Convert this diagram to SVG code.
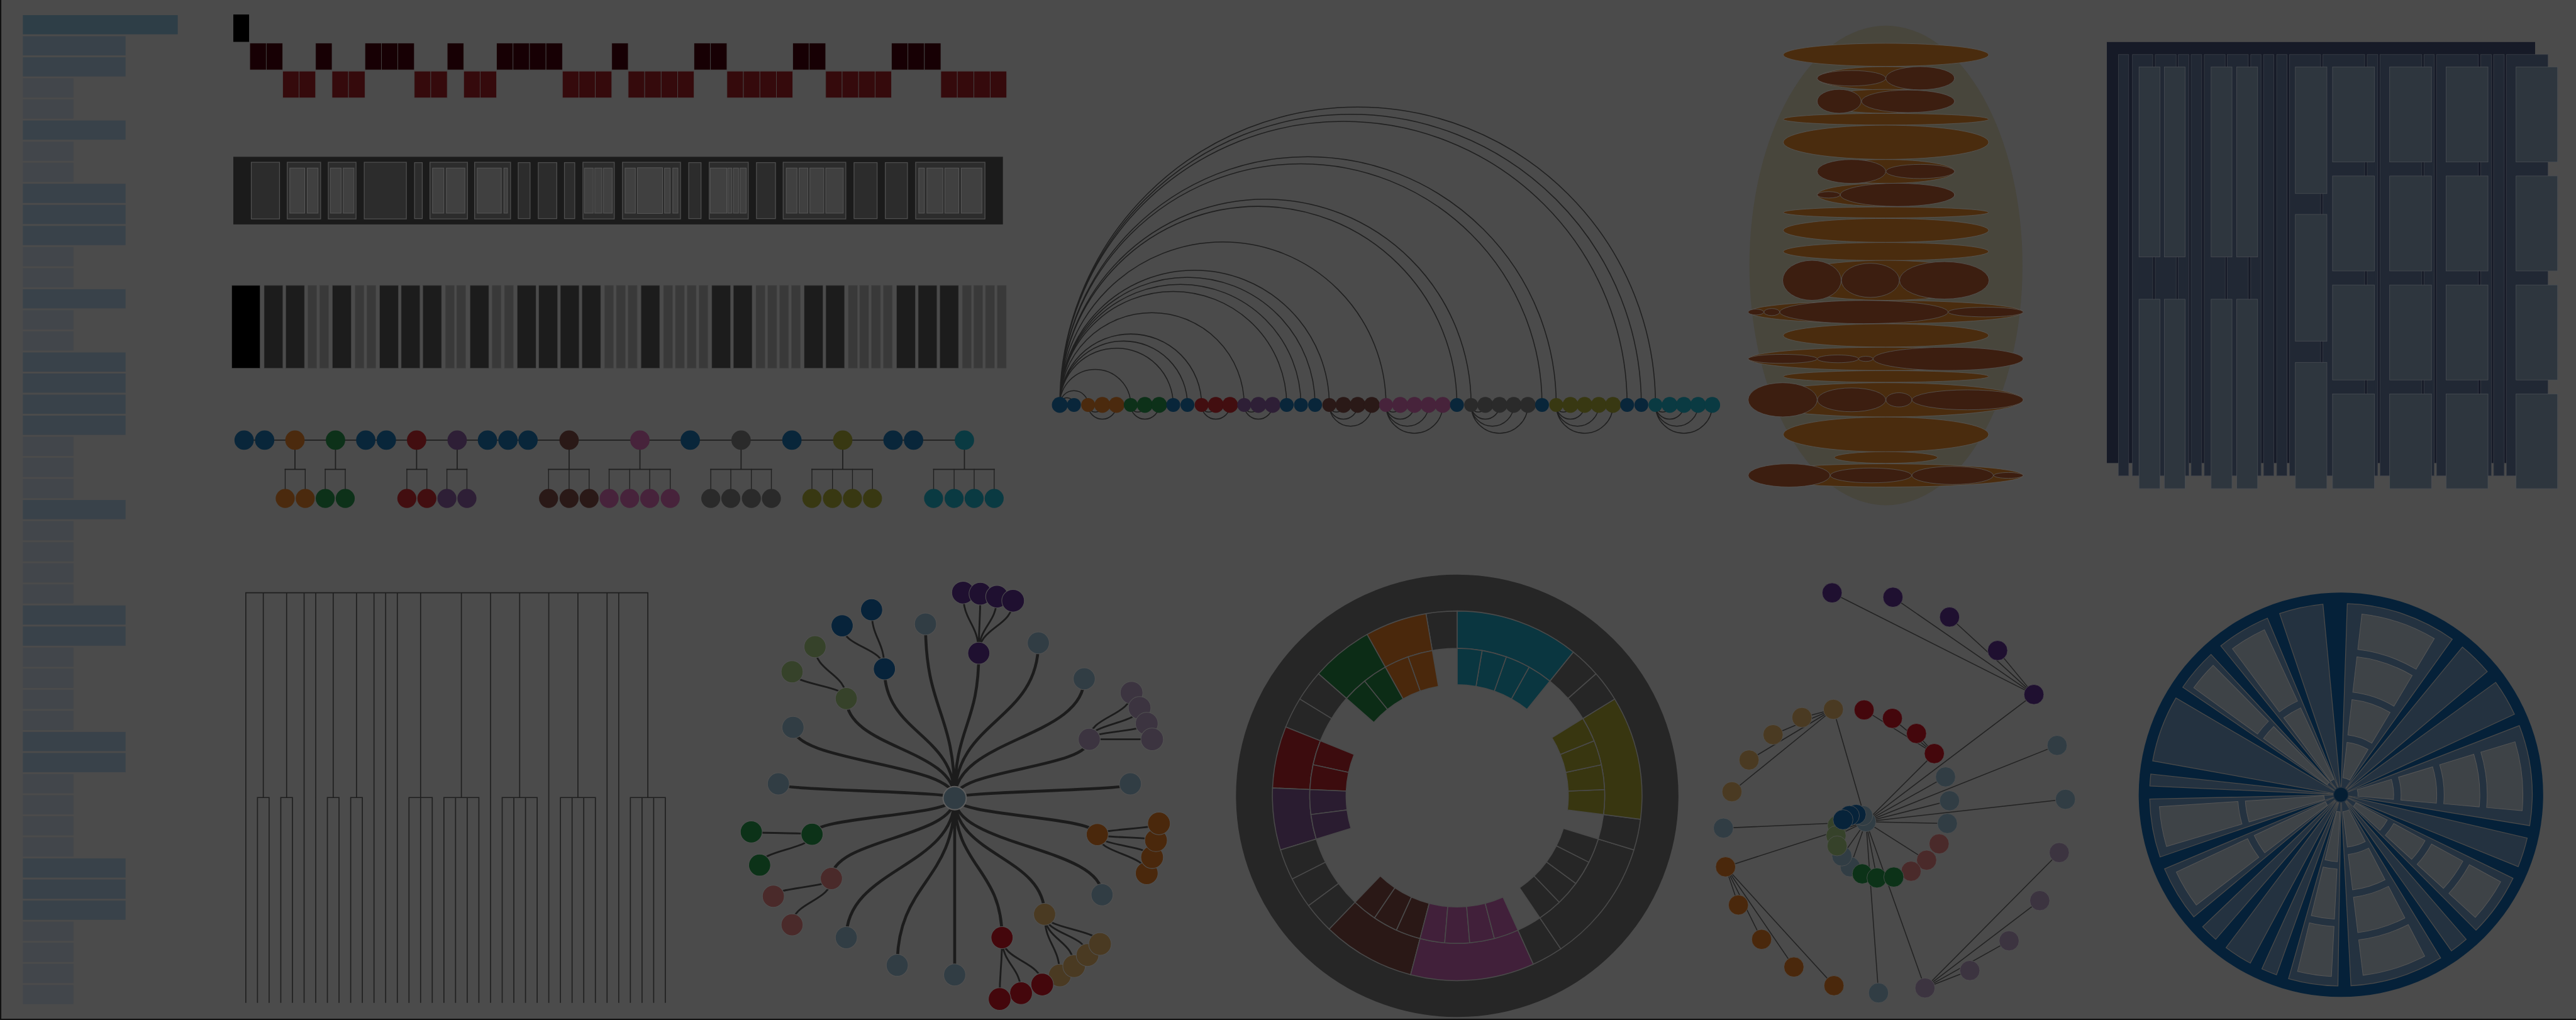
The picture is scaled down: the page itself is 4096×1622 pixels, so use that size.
<svg xmlns="http://www.w3.org/2000/svg" width="4096" height="1622" viewBox="0 0 4096 1622">
<style>
.l0{fill:#2e3e47}.l1{fill:#39424a}.l2{fill:#42464b}
.ic0{fill:#000}.ic1{fill:#170004;stroke:#4b4b4b;stroke-width:1.5}.ic2{fill:#350a0c;stroke:#4b4b4b;stroke-width:1.5}
.nb0{fill:#1b1b1b}.nb1{fill:#2c2c2c;stroke:#505050;stroke-width:2.5}.nb2{fill:#404040;stroke:#575757;stroke-width:2}
.bd{fill:#1c1c1c;stroke:#444;stroke-width:1.2}.bl{fill:#393939;stroke:#444;stroke-width:1.2}
.ln{fill:none;stroke:#1f1f1f;stroke-width:3.4;stroke-linecap:square}
.arc{fill:none;stroke:#1f1f1f;stroke-width:3}
.cb{fill:#09263a}.co{fill:#4b2a0e}.cg{fill:#0d3119}.cr{fill:#420e10}.cp{fill:#2e1f36}.cbr{fill:#2a1917}.cm{fill:#47233b}.cgr{fill:#2a2a2a}.col{fill:#383812}.ct{fill:#0a3a42}
.e1{fill:#4a2c0e;stroke:#5a5a5a;stroke-width:1.5}.e2{fill:#3c1e10;stroke:#5a5a5a;stroke-width:1.5}
.t0{fill:#161a27}.t1{fill:#212834;stroke:#3c4049;stroke-width:1.5}.t2{fill:#2e363e;stroke:#4b4f55;stroke-width:1.5}
.rl{fill:none;stroke:#1c1c1c;stroke-width:9}.rc{fill:none;stroke:#1c1c1c;stroke-width:5.5}
.q{stroke:#525252;stroke-width:2}
.qvi{fill:#1f1030}.qnv{fill:#07233a}.qol{fill:#36422a}.qgp{fill:#3c3440}.qor{fill:#4a280c}.qgo{fill:#4a3a22}.qrd{fill:#44070c}.qro{fill:#4a2a2a}.qgn{fill:#0c3218}.qbg{fill:#313d44}
.sb{stroke:#4a4a4a;stroke-width:3}
.sd{fill:#262626}.st{fill:#0a3640}.so{fill:#383610}.sm{fill:#41203a}.sbr{fill:#2a1816}.sp{fill:#2a1c30}.sr{fill:#3c0c0e}.sg{fill:#0c2c16}.sor{fill:#4a280c}
.fl{fill:none;stroke:#222;stroke-width:3}
.rw{fill:#243240;stroke:#4a4a4a;stroke-width:2.5}.rb{fill:#3e4347;stroke:#565656;stroke-width:2}
</style>
<rect width="4096" height="1622" fill="#4b4b4b"/>
<g transform="scale(0.512)">
<rect x="0" y="0" width="4" height="3168" fill="#111"/>
<rect x="0" y="3164" width="8000" height="4" fill="#111"/>

<g id="indented-list">
<rect class="l0" x="71" y="47" width="481" height="59.5"/>
<g class="l1">
<rect x="71" y="112.5" width="319" height="59.5"/><rect x="71" y="178" width="319" height="59.5"/><rect x="71" y="374.4" width="319" height="59.5"/><rect x="71" y="570.8" width="319" height="59.5"/><rect x="71" y="636.3" width="319" height="59.5"/><rect x="71" y="701.8" width="319" height="59.5"/><rect x="71" y="898.2" width="319" height="59.5"/><rect x="71" y="1094.7" width="319" height="59.5"/><rect x="71" y="1160.2" width="319" height="59.5"/><rect x="71" y="1225.6" width="319" height="59.5"/><rect x="71" y="1291.1" width="319" height="59.5"/><rect x="71" y="1553" width="319" height="59.5"/><rect x="71" y="1880.4" width="319" height="59.5"/><rect x="71" y="1945.9" width="319" height="59.5"/><rect x="71" y="2273.3" width="319" height="59.5"/><rect x="71" y="2338.8" width="319" height="59.5"/><rect x="71" y="2666.2" width="319" height="59.5"/><rect x="71" y="2731.7" width="319" height="59.5"/><rect x="71" y="2797.2" width="319" height="59.5"/>
</g>
<g class="l2">
<rect x="71" y="243.4" width="157" height="59.5"/><rect x="71" y="308.9" width="157" height="59.5"/><rect x="71" y="439.9" width="157" height="59.5"/><rect x="71" y="505.4" width="157" height="59.5"/><rect x="71" y="767.3" width="157" height="59.5"/><rect x="71" y="832.8" width="157" height="59.5"/><rect x="71" y="963.7" width="157" height="59.5"/><rect x="71" y="1029.2" width="157" height="59.5"/><rect x="71" y="1356.6" width="157" height="59.5"/><rect x="71" y="1422.1" width="157" height="59.5"/><rect x="71" y="1487.6" width="157" height="59.5"/><rect x="71" y="1618.5" width="157" height="59.5"/><rect x="71" y="1684" width="157" height="59.5"/><rect x="71" y="1749.5" width="157" height="59.5"/><rect x="71" y="1815" width="157" height="59.5"/><rect x="71" y="2011.4" width="157" height="59.5"/><rect x="71" y="2076.9" width="157" height="59.5"/><rect x="71" y="2142.4" width="157" height="59.5"/><rect x="71" y="2207.8" width="157" height="59.5"/><rect x="71" y="2404.3" width="157" height="59.5"/><rect x="71" y="2469.8" width="157" height="59.5"/><rect x="71" y="2535.2" width="157" height="59.5"/><rect x="71" y="2600.7" width="157" height="59.5"/><rect x="71" y="2862.6" width="157" height="59.5"/><rect x="71" y="2928.1" width="157" height="59.5"/><rect x="71" y="2993.6" width="157" height="59.5"/><rect x="71" y="3059.1" width="157" height="59.5"/>
</g>
</g>

<g id="icicle">
<rect class="ic0" x="724.6" y="45" width="49" height="85"/>
<g class="ic1">
<rect x="775.7" y="134" width="51.1" height="83"/><rect x="826.8" y="134" width="51.1" height="83"/><rect x="980.1" y="134" width="51.1" height="83"/><rect x="1133.4" y="134" width="51.1" height="83"/><rect x="1184.5" y="134" width="51.1" height="83"/><rect x="1235.6" y="134" width="51.1" height="83"/><rect x="1388.9" y="134" width="51.1" height="83"/><rect x="1542.2" y="134" width="51.1" height="83"/><rect x="1593.3" y="134" width="51.1" height="83"/><rect x="1644.4" y="134" width="51.1" height="83"/><rect x="1695.5" y="134" width="51.1" height="83"/><rect x="1899.9" y="134" width="51.1" height="83"/><rect x="2155.4" y="134" width="51.1" height="83"/><rect x="2206.5" y="134" width="51.1" height="83"/><rect x="2462" y="134" width="51.1" height="83"/><rect x="2513.1" y="134" width="51.1" height="83"/><rect x="2768.6" y="134" width="51.1" height="83"/><rect x="2819.7" y="134" width="51.1" height="83"/><rect x="2870.8" y="134" width="51.1" height="83"/>
</g>
<g class="ic2">
<rect x="877.9" y="221" width="51.1" height="83"/><rect x="929" y="221" width="51.1" height="83"/><rect x="1031.2" y="221" width="51.1" height="83"/><rect x="1082.3" y="221" width="51.1" height="83"/><rect x="1286.7" y="221" width="51.1" height="83"/><rect x="1337.8" y="221" width="51.1" height="83"/><rect x="1440" y="221" width="51.1" height="83"/><rect x="1491.1" y="221" width="51.1" height="83"/><rect x="1746.6" y="221" width="51.1" height="83"/><rect x="1797.7" y="221" width="51.1" height="83"/><rect x="1848.8" y="221" width="51.1" height="83"/><rect x="1951" y="221" width="51.1" height="83"/><rect x="2002.1" y="221" width="51.1" height="83"/><rect x="2053.2" y="221" width="51.1" height="83"/><rect x="2104.3" y="221" width="51.1" height="83"/><rect x="2257.6" y="221" width="51.1" height="83"/><rect x="2308.7" y="221" width="51.1" height="83"/><rect x="2359.8" y="221" width="51.1" height="83"/><rect x="2410.9" y="221" width="51.1" height="83"/><rect x="2564.2" y="221" width="51.1" height="83"/><rect x="2615.3" y="221" width="51.1" height="83"/><rect x="2666.4" y="221" width="51.1" height="83"/><rect x="2717.5" y="221" width="51.1" height="83"/><rect x="2921.9" y="221" width="51.1" height="83"/><rect x="2973" y="221" width="51.1" height="83"/><rect x="3024.1" y="221" width="51.1" height="83"/><rect x="3075.2" y="221" width="51.1" height="83"/>
</g>
</g>

<g id="nested-boxes">
<rect class="nb0" x="724.6" y="487" width="2390" height="210"/>
<g class="nb1">
<rect x="780.4" y="504" width="87.7" height="176"/><rect x="892.1" y="504" width="103.6" height="176"/><rect x="1019.6" y="504" width="86.1" height="176"/><rect x="1131.2" y="504" width="130.8" height="176"/><rect x="1287.5" y="505" width="23.9" height="174"/><rect x="1335.3" y="504" width="116.4" height="176"/><rect x="1474" y="504" width="111.6" height="176"/><rect x="1609.5" y="505" width="36.7" height="174"/><rect x="1671.7" y="505" width="57.4" height="174"/><rect x="1753" y="505" width="31.9" height="174"/><rect x="1810.4" y="504" width="97.3" height="176"/><rect x="1933.2" y="504" width="180.2" height="176"/><rect x="2138.9" y="505" width="38.2" height="174"/><rect x="2202.6" y="504" width="121.2" height="176"/><rect x="2349.3" y="505" width="59" height="174"/><rect x="2432.2" y="504" width="194.5" height="176"/><rect x="2652.3" y="505" width="71.7" height="174"/><rect x="2749.5" y="505" width="68.6" height="174"/><rect x="2843.6" y="504" width="215.3" height="176"/>
</g>
<g class="nb2">
<rect x="900" y="522" width="46.3" height="140"/><rect x="954.2" y="522" width="33.5" height="140"/><rect x="1026" y="522" width="33.5" height="140"/><rect x="1065.8" y="522" width="33.5" height="140"/><rect x="1343.3" y="522" width="35" height="140"/><rect x="1386.3" y="522" width="57.4" height="140"/><rect x="1482" y="522" width="74.9" height="140"/><rect x="1564.9" y="522" width="11.2" height="140"/><rect x="1815.2" y="522" width="27.1" height="140"/><rect x="1847.1" y="522" width="22.3" height="140"/><rect x="1874.2" y="522" width="27.1" height="140"/><rect x="1941.2" y="522" width="31.9" height="140"/><rect x="1979.4" y="521" width="78.2" height="142"/><rect x="2063.9" y="522" width="17.6" height="140"/><rect x="2089.4" y="522" width="16" height="140"/><rect x="2205.8" y="522" width="51" height="140"/><rect x="2260" y="522" width="12.8" height="140"/><rect x="2277.6" y="522" width="15.9" height="140"/><rect x="2298.3" y="522" width="19.1" height="140"/><rect x="2441.8" y="522" width="33.5" height="140"/><rect x="2481.7" y="522" width="27.1" height="140"/><rect x="2515.2" y="522" width="43" height="140"/><rect x="2564.6" y="522" width="54.2" height="140"/><rect x="2853.2" y="522" width="17.5" height="140"/><rect x="2878.6" y="522" width="49.5" height="140"/><rect x="2934.5" y="522" width="43" height="140"/><rect x="2985.4" y="522" width="63.9" height="140"/>
</g>
</g>

<g id="bars">
<rect x="719.9" y="886.5" width="87.7" height="257.2" fill="#000" stroke="#444" stroke-width="1.2"/>
<g class="bd">
<rect x="820.3" y="886.5" width="58.2" height="257.2"/><rect x="887.3" y="886.5" width="58.2" height="257.2"/><rect x="1032.4" y="886.5" width="58.2" height="257.2"/><rect x="1179" y="886.5" width="58.2" height="257.2"/><rect x="1246" y="886.5" width="58.2" height="257.2"/><rect x="1313" y="886.5" width="58.2" height="257.2"/><rect x="1459.7" y="886.5" width="58.2" height="257.2"/><rect x="1606.3" y="886.5" width="58.2" height="257.2"/><rect x="1673.3" y="886.5" width="58.2" height="257.2"/><rect x="1740.3" y="886.5" width="58.2" height="257.2"/><rect x="1807.2" y="886.5" width="58.2" height="257.2"/><rect x="1990.6" y="886.5" width="58.2" height="257.2"/><rect x="2210.6" y="886.5" width="58.2" height="257.2"/><rect x="2277.6" y="886.5" width="58.2" height="257.2"/><rect x="2497.6" y="886.5" width="58.2" height="257.2"/><rect x="2564.6" y="886.5" width="58.2" height="257.2"/><rect x="2784.6" y="886.5" width="58.2" height="257.2"/><rect x="2851.6" y="886.5" width="58.2" height="257.2"/><rect x="2918.5" y="886.5" width="58.2" height="257.2"/>
</g>
<g class="bl">
<rect x="955.8" y="886.5" width="27.9" height="257.2"/><rect x="992.5" y="886.5" width="27.9" height="257.2"/><rect x="1102.5" y="886.5" width="27.9" height="257.2"/><rect x="1139.2" y="886.5" width="27.9" height="257.2"/><rect x="1383.1" y="886.5" width="27.9" height="257.2"/><rect x="1418.2" y="886.5" width="27.9" height="257.2"/><rect x="1528.2" y="886.5" width="27.9" height="257.2"/><rect x="1566.5" y="886.5" width="27.9" height="257.2"/><rect x="1877.4" y="886.5" width="27.9" height="257.2"/><rect x="1914.1" y="886.5" width="27.9" height="257.2"/><rect x="1950.7" y="886.5" width="27.9" height="257.2"/><rect x="2060.7" y="886.5" width="27.9" height="257.2"/><rect x="2097.4" y="886.5" width="27.9" height="257.2"/><rect x="2134.1" y="886.5" width="27.9" height="257.2"/><rect x="2170.8" y="886.5" width="27.9" height="257.2"/><rect x="2347.7" y="886.5" width="27.9" height="257.2"/><rect x="2384.4" y="886.5" width="27.9" height="257.2"/><rect x="2421.1" y="886.5" width="27.9" height="257.2"/><rect x="2457.8" y="886.5" width="27.9" height="257.2"/><rect x="2634.7" y="886.5" width="27.9" height="257.2"/><rect x="2669.8" y="886.5" width="27.9" height="257.2"/><rect x="2706.5" y="886.5" width="27.9" height="257.2"/><rect x="2743.2" y="886.5" width="27.9" height="257.2"/><rect x="2988.7" y="886.5" width="27.9" height="257.2"/><rect x="3023.8" y="886.5" width="27.9" height="257.2"/><rect x="3060.5" y="886.5" width="27.9" height="257.2"/><rect x="3097.2" y="886.5" width="27.9" height="257.2"/>
</g>
</g>

<g id="tree-links">
<path class="ln" d="M758.1 1367H2995.1 M916 1397V1457.7 M1041.9 1397V1457.7 M1293.8 1397V1457.7 M1419.8 1397V1457.7 M1767.4 1397V1457.7 M1987.4 1397V1457.7 M2301.5 1397V1457.7 M2617.2 1397V1457.7 M2995.1 1397V1457.7 M885.7 1457.7H947.9 M1010 1457.7H1072.2 M1263.5 1457.7H1325.7 M1387.9 1457.7H1450.1 M1703.6 1457.7H1829.6 M1891.7 1457.7H2081.5 M2207.4 1457.7H2395.6 M2521.5 1457.7H2709.6 M2899.4 1457.7H3087.5"/>
<path class="ln" style="stroke-width:2.6" d="M885.7 1457.7V1518 M947.9 1457.7V1518 M1010 1457.7V1518 M1072.2 1457.7V1518 M1263.5 1457.7V1518 M1325.7 1457.7V1518 M1387.9 1457.7V1518 M1450.1 1457.7V1518 M1703.6 1457.7V1518 M1767.4 1457.7V1518 M1829.6 1457.7V1518 M1891.7 1457.7V1518 M1955.5 1457.7V1518 M2017.7 1457.7V1518 M2081.5 1457.7V1518 M2207.4 1457.7V1518 M2269.6 1457.7V1518 M2333.4 1457.7V1518 M2395.6 1457.7V1518 M2521.5 1457.7V1518 M2585.3 1457.7V1518 M2647.4 1457.7V1518 M2709.6 1457.7V1518 M2899.4 1457.7V1518 M2963.1 1457.7V1518 M3025.3 1457.7V1518 M3087.5 1457.7V1518"/>
</g>
<g id="tree-nodes">
<circle class="cb" cx="758.1" cy="1367" r="30"/><circle class="cb" cx="821.9" cy="1367" r="30"/><circle class="co" cx="916" cy="1367" r="30"/><circle class="cg" cx="1041.9" cy="1367" r="30"/><circle class="cb" cx="1136" cy="1367" r="30"/><circle class="cb" cx="1199.8" cy="1367" r="30"/><circle class="cr" cx="1293.8" cy="1367" r="30"/><circle class="cp" cx="1419.8" cy="1367" r="30"/><circle class="cb" cx="1513.9" cy="1367" r="30"/><circle class="cb" cx="1577.6" cy="1367" r="30"/><circle class="cb" cx="1639.8" cy="1367" r="30"/><circle class="cbr" cx="1767.4" cy="1367" r="30"/><circle class="cm" cx="1987.4" cy="1367" r="30"/><circle class="cb" cx="2143.6" cy="1367" r="30"/><circle class="cgr" cx="2301.5" cy="1367" r="30"/><circle class="cb" cx="2459.3" cy="1367" r="30"/><circle class="col" cx="2617.2" cy="1367" r="30"/><circle class="cb" cx="2773.4" cy="1367" r="30"/><circle class="cb" cx="2837.2" cy="1367" r="30"/><circle class="ct" cx="2995.1" cy="1367" r="30"/>
<circle class="co" cx="885.7" cy="1548" r="29.5"/><circle class="co" cx="947.9" cy="1548" r="29.5"/><circle class="cg" cx="1010" cy="1548" r="29.5"/><circle class="cg" cx="1072.2" cy="1548" r="29.5"/><circle class="cr" cx="1263.5" cy="1548" r="29.5"/><circle class="cr" cx="1325.7" cy="1548" r="29.5"/><circle class="cp" cx="1387.9" cy="1548" r="29.5"/><circle class="cp" cx="1450.1" cy="1548" r="29.5"/><circle class="cbr" cx="1703.6" cy="1548" r="29.5"/><circle class="cbr" cx="1767.4" cy="1548" r="29.5"/><circle class="cbr" cx="1829.6" cy="1548" r="29.5"/><circle class="cm" cx="1891.7" cy="1548" r="29.5"/><circle class="cm" cx="1955.5" cy="1548" r="29.5"/><circle class="cm" cx="2017.7" cy="1548" r="29.5"/><circle class="cm" cx="2081.5" cy="1548" r="29.5"/><circle class="cgr" cx="2207.4" cy="1548" r="29.5"/><circle class="cgr" cx="2269.6" cy="1548" r="29.5"/><circle class="cgr" cx="2333.4" cy="1548" r="29.5"/><circle class="cgr" cx="2395.6" cy="1548" r="29.5"/><circle class="col" cx="2521.5" cy="1548" r="29.5"/><circle class="col" cx="2585.3" cy="1548" r="29.5"/><circle class="col" cx="2647.4" cy="1548" r="29.5"/><circle class="col" cx="2709.6" cy="1548" r="29.5"/><circle class="ct" cx="2899.4" cy="1548" r="29.5"/><circle class="ct" cx="2963.1" cy="1548" r="29.5"/><circle class="ct" cx="3025.3" cy="1548" r="29.5"/><circle class="ct" cx="3087.5" cy="1548" r="29.5"/>
</g>

<g id="arc-links">
<path class="arc" d="M3291.2 1257.6a22.05 22.05 0 0 1 44.1 0 M3291.2 1257.6a44.05 44.05 0 0 1 88.1 0 M3291.2 1257.6a110.15 110.15 0 0 1 220.3 0 M3291.2 1257.6a176.2 176.2 0 0 1 352.4 0 M3291.2 1257.6a198.25 198.25 0 0 1 396.5 0 M3291.2 1257.6a220.25 220.25 0 0 1 440.5 0 M3291.2 1257.6a286.35 286.35 0 0 1 572.7 0 M3291.2 1257.6a352.4 352.4 0 0 1 704.8 0 M3291.2 1257.6a374.45 374.45 0 0 1 748.9 0 M3291.2 1257.6a396.45 396.45 0 0 1 792.9 0 M3291.2 1257.6a418.5 418.5 0 0 1 837 0 M3291.2 1257.6a506.6 506.6 0 0 1 1013.2 0 M3291.2 1257.6a616.7 616.7 0 0 1 1233.4 0 M3291.2 1257.6a638.75 638.75 0 0 1 1277.5 0 M3291.2 1257.6a748.85 748.85 0 0 1 1497.7 0 M3291.2 1257.6a770.9 770.9 0 0 1 1541.8 0 M3291.2 1257.6a881 881 0 0 1 1762 0 M3291.2 1257.6a903.05 903.05 0 0 1 1806.1 0 M3291.2 1257.6a925.05 925.05 0 0 1 1850.1 0"/>
<path class="arc" d="M3379.3 1257.6a22.05 22.05 0 0 0 44.1 0 M3379.3 1257.6a44.05 44.05 0 0 0 88.1 0 M3511.5 1257.6a22 22 0 0 0 44 0 M3511.5 1257.6a44.05 44.05 0 0 0 88.1 0 M3731.7 1257.6a22.05 22.05 0 0 0 44.1 0 M3731.7 1257.6a44.05 44.05 0 0 0 88.1 0 M3863.9 1257.6a22 22 0 0 0 44 0 M3863.9 1257.6a44.05 44.05 0 0 0 88.1 0 M4128.2 1257.6a22 22 0 0 0 44 0 M4128.2 1257.6a44.05 44.05 0 0 0 88.1 0 M4128.2 1257.6a66.05 66.05 0 0 0 132.1 0 M4304.4 1257.6a22 22 0 0 0 44 0 M4304.4 1257.6a44.05 44.05 0 0 0 88.1 0 M4304.4 1257.6a66.05 66.05 0 0 0 132.1 0 M4304.4 1257.6a88.1 88.1 0 0 0 176.2 0 M4568.7 1257.6a22 22 0 0 0 44 0 M4568.7 1257.6a44.05 44.05 0 0 0 88.1 0 M4568.7 1257.6a66.05 66.05 0 0 0 132.1 0 M4568.7 1257.6a88.1 88.1 0 0 0 176.2 0 M4833 1257.6a22 22 0 0 0 44 0 M4833 1257.6a44.05 44.05 0 0 0 88.1 0 M4833 1257.6a66.05 66.05 0 0 0 132.1 0 M4833 1257.6a88.1 88.1 0 0 0 176.2 0 M5141.3 1257.6a22.05 22.05 0 0 0 44.1 0 M5141.3 1257.6a44.05 44.05 0 0 0 88.1 0 M5141.3 1257.6a66.1 66.1 0 0 0 132.2 0 M5141.3 1257.6a88.1 88.1 0 0 0 176.2 0"/>
</g>
<g id="arc-nodes">
<circle class="cb" cx="3291.2" cy="1257.6" r="24.5"/><circle class="cb" cx="3335.3" cy="1257.6" r="21.5"/><circle class="co" cx="3379.3" cy="1257.6" r="21.5"/><circle class="co" cx="3423.4" cy="1257.6" r="24.5"/><circle class="co" cx="3467.4" cy="1257.6" r="24.5"/><circle class="cg" cx="3511.5" cy="1257.6" r="21.5"/><circle class="cg" cx="3555.5" cy="1257.6" r="24.5"/><circle class="cg" cx="3599.6" cy="1257.6" r="24.5"/><circle class="cb" cx="3643.6" cy="1257.6" r="21.5"/><circle class="cb" cx="3687.7" cy="1257.6" r="21.5"/><circle class="cr" cx="3731.7" cy="1257.6" r="21.5"/><circle class="cr" cx="3775.8" cy="1257.6" r="24.5"/><circle class="cr" cx="3819.8" cy="1257.6" r="24.5"/><circle class="cp" cx="3863.9" cy="1257.6" r="21.5"/><circle class="cp" cx="3907.9" cy="1257.6" r="24.5"/><circle class="cp" cx="3952" cy="1257.6" r="24.5"/><circle class="cb" cx="3996" cy="1257.6" r="21.5"/><circle class="cb" cx="4040.1" cy="1257.6" r="21.5"/><circle class="cb" cx="4084.1" cy="1257.6" r="21.5"/><circle class="cbr" cx="4128.2" cy="1257.6" r="21.5"/><circle class="cbr" cx="4172.2" cy="1257.6" r="24.5"/><circle class="cbr" cx="4216.3" cy="1257.6" r="24.5"/><circle class="cbr" cx="4260.3" cy="1257.6" r="24.5"/><circle class="cm" cx="4304.4" cy="1257.6" r="21.5"/><circle class="cm" cx="4348.4" cy="1257.6" r="24.5"/><circle class="cm" cx="4392.5" cy="1257.6" r="24.5"/><circle class="cm" cx="4436.5" cy="1257.6" r="24.5"/><circle class="cm" cx="4480.6" cy="1257.6" r="24.5"/><circle class="cb" cx="4524.6" cy="1257.6" r="21.5"/><circle class="cgr" cx="4568.7" cy="1257.6" r="21.5"/><circle class="cgr" cx="4612.7" cy="1257.6" r="24.5"/><circle class="cgr" cx="4656.8" cy="1257.6" r="24.5"/><circle class="cgr" cx="4700.8" cy="1257.6" r="24.5"/><circle class="cgr" cx="4744.9" cy="1257.6" r="24.5"/><circle class="cb" cx="4788.9" cy="1257.6" r="21.5"/><circle class="col" cx="4833" cy="1257.6" r="21.5"/><circle class="col" cx="4877" cy="1257.6" r="24.5"/><circle class="col" cx="4921.1" cy="1257.6" r="24.5"/><circle class="col" cx="4965.1" cy="1257.6" r="24.5"/><circle class="col" cx="5009.2" cy="1257.6" r="24.5"/><circle class="cb" cx="5053.2" cy="1257.6" r="21.5"/><circle class="cb" cx="5097.3" cy="1257.6" r="21.5"/><circle class="ct" cx="5141.3" cy="1257.6" r="21.5"/><circle class="ct" cx="5185.4" cy="1257.6" r="24.5"/><circle class="ct" cx="5229.4" cy="1257.6" r="24.5"/><circle class="ct" cx="5273.5" cy="1257.6" r="24.5"/><circle class="ct" cx="5317.5" cy="1257.6" r="24.5"/>
</g>

<g id="ellipse-pack">
<ellipse cx="5857" cy="824.5" rx="424" ry="744.7" fill="#48463c"/>
<ellipse class="e1" cx="5857" cy="170.3" rx="318.9" ry="35.8"/>
<ellipse class="e1" cx="5857" cy="243" rx="213.6" ry="36"/><ellipse class="e2" cx="5749.9" cy="243" rx="106.5" ry="24"/><ellipse class="e2" cx="5963.2" cy="243" rx="106.8" ry="36"/>
<ellipse class="e1" cx="5857" cy="314.6" rx="213.6" ry="37"/><ellipse class="e2" cx="5711.6" cy="314.6" rx="68.2" ry="37"/><ellipse class="e2" cx="5925.6" cy="314.6" rx="144.5" ry="35"/>
<ellipse class="e1" cx="5857" cy="370.3" rx="318.9" ry="18"/>
<ellipse class="e1" cx="5857" cy="441.9" rx="318.9" ry="53"/>
<ellipse class="e1" cx="5857" cy="532.5" rx="213.6" ry="37"/><ellipse class="e2" cx="5749.9" cy="532.5" rx="106.5" ry="37"/><ellipse class="e2" cx="5963.5" cy="532.5" rx="106.5" ry="22"/>
<ellipse class="e1" cx="5857" cy="605.1" rx="213.6" ry="36"/><ellipse class="e2" cx="5679.1" cy="605.1" rx="35.7" ry="10"/><ellipse class="e2" cx="5892.7" cy="605.1" rx="177.3" ry="36"/>
<ellipse class="e1" cx="5857" cy="659.8" rx="318.9" ry="17"/>
<ellipse class="e1" cx="5857" cy="715.5" rx="318.9" ry="37"/>
<ellipse class="e1" cx="5857" cy="781.2" rx="318.9" ry="28"/>
<ellipse class="e1" cx="5857" cy="870.7" rx="320" ry="62"/><ellipse class="e2" cx="5627.1" cy="870.7" rx="90.9" ry="62"/><ellipse class="e2" cx="5808.6" cy="870.7" rx="90" ry="53"/><ellipse class="e2" cx="6038.2" cy="870.7" rx="139" ry="58"/>
<ellipse class="e1" cx="5856.4" cy="969.2" rx="427.3" ry="36"/><ellipse class="e2" cx="5453.4" cy="969.2" rx="24.3" ry="9"/><ellipse class="e2" cx="5502.5" cy="969.2" rx="24.3" ry="11"/><ellipse class="e2" cx="5788.5" cy="969.2" rx="261.2" ry="36"/><ellipse class="e2" cx="6166.7" cy="969.2" rx="116.4" ry="15"/>
<ellipse class="e1" cx="5857" cy="1041.9" rx="318.9" ry="36"/>
<ellipse class="e1" cx="5856.4" cy="1114.5" rx="427.3" ry="36"/><ellipse class="e2" cx="5536.3" cy="1114.5" rx="107.2" ry="14"/><ellipse class="e2" cx="5707.8" cy="1114.5" rx="63.8" ry="12"/><ellipse class="e2" cx="5794.5" cy="1114.5" rx="22.3" ry="8"/><ellipse class="e2" cx="6050.3" cy="1114.5" rx="232.8" ry="36"/>
<ellipse class="e1" cx="5857" cy="1169.2" rx="318.9" ry="18"/>
<ellipse class="e1" cx="5856.4" cy="1241.8" rx="427.3" ry="53"/><ellipse class="e2" cx="5536.3" cy="1241.8" rx="107.2" ry="53"/><ellipse class="e2" cx="5750.2" cy="1241.8" rx="106.2" ry="37"/><ellipse class="e2" cx="5897.2" cy="1241.8" rx="40.2" ry="22"/><ellipse class="e2" cx="6110.5" cy="1241.8" rx="172.5" ry="31"/>
<ellipse class="e1" cx="5857" cy="1349.3" rx="318.9" ry="54"/>
<ellipse class="e1" cx="5857" cy="1420.9" rx="160.1" ry="18"/>
<ellipse class="e1" cx="5856.4" cy="1476.6" rx="427.3" ry="36"/><ellipse class="e2" cx="5556.3" cy="1476.6" rx="127.2" ry="36"/><ellipse class="e2" cx="5810.5" cy="1476.6" rx="126.3" ry="23"/><ellipse class="e2" cx="6064" cy="1476.6" rx="126.6" ry="28"/><ellipse class="e2" cx="6237.4" cy="1476.6" rx="45.6" ry="9"/>
</g>

<g id="treemap">
<rect class="t0" x="6543" y="130.5" width="1330" height="1307.6"/>
<g class="t1">
<rect x="6578.9" y="169.4" width="32" height="1308.4"/><rect x="6622.5" y="169.4" width="63" height="1308.4"/><rect x="6693.3" y="169.4" width="64.9" height="1308.4"/><rect x="6765" y="169.4" width="33" height="1308.4"/><rect x="6804.7" y="169.4" width="33" height="1308.4"/><rect x="6845.5" y="169.4" width="64.9" height="1308.4"/><rect x="6917.2" y="169.4" width="64.9" height="1308.4"/><rect x="6989.9" y="169.4" width="32" height="1308.4"/><rect x="7029.6" y="169.4" width="32" height="1308.4"/><rect x="7070.4" y="169.4" width="32" height="1308.4"/><rect x="7110.1" y="169.4" width="96.9" height="1308.4"/><rect x="7213.8" y="169.4" width="129.9" height="1308.4"/><rect x="7351.5" y="169.4" width="32.9" height="1308.4"/><rect x="7391.2" y="169.4" width="129.9" height="1308.4"/><rect x="7527.9" y="169.4" width="32" height="1308.4"/><rect x="7566.7" y="169.4" width="129.9" height="1308.4"/><rect x="7704.3" y="169.4" width="33" height="1308.4"/><rect x="7744.1" y="169.4" width="33" height="1308.4"/><rect x="7783.8" y="169.4" width="129" height="1308.4"/>
</g>
<g class="t2">
<rect x="6642.9" y="208.2" width="64.9" height="590"/><rect x="6642.9" y="929.5" width="64.9" height="588.1"/><rect x="6721.4" y="208.2" width="64.9" height="590"/><rect x="6721.4" y="929.5" width="64.9" height="588.1"/>
<rect x="6866.8" y="208.2" width="64.9" height="590"/><rect x="6866.8" y="929.5" width="64.9" height="588.1"/><rect x="6946.3" y="208.2" width="64.9" height="590"/><rect x="6946.3" y="929.5" width="64.9" height="588.1"/>
<rect x="7128.5" y="208.2" width="97.9" height="393"/><rect x="7128.5" y="665.9" width="97.9" height="394"/><rect x="7128.5" y="1125.5" width="97.9" height="392.1"/>
<rect x="7243.9" y="208.2" width="129.9" height="295"/><rect x="7243.9" y="546.6" width="129.9" height="295"/><rect x="7243.9" y="885.1" width="129.9" height="295"/><rect x="7243.9" y="1223.6" width="129.9" height="294"/>
<rect x="7421.3" y="208.2" width="129.9" height="295"/><rect x="7421.3" y="546.6" width="129.9" height="295"/><rect x="7421.3" y="885.1" width="129.9" height="295"/><rect x="7421.3" y="1223.6" width="129.9" height="294"/>
<rect x="7596.7" y="208.2" width="129.9" height="295"/><rect x="7596.7" y="546.6" width="129.9" height="295"/><rect x="7596.7" y="885.1" width="129.9" height="295"/><rect x="7596.7" y="1223.6" width="129.9" height="294"/>
<rect x="7813.9" y="208.2" width="128.9" height="295"/><rect x="7813.9" y="546.6" width="128.9" height="295"/><rect x="7813.9" y="885.1" width="128.9" height="295"/><rect x="7813.9" y="1223.6" width="128.9" height="294"/>
</g>
</g>

<g id="dendrogram">
<path class="ln" style="stroke-width:3.2" d="M763.4 1841H2011.9 M763.4 1841V3113 M944.4 1841V3113 M980.5 1841V3113 M1161.5 1841V3113 M1197.7 1841V3113 M1233.9 1841V3113 M1523.4 1841V3113 M1704.3 1841V3113 M1885.3 1841V3113 M1921.5 1841V3113 M817.7 1841V2477 M890.1 1841V2477 M1034.8 1841V2477 M1107.2 1841V2477 M1306.2 1841V2477 M1432.9 1841V2477 M1613.9 1841V2477 M1794.8 1841V2477 M2011.9 1841V2477 M799.6 2477H835.8 M872 2477H908.2 M1016.7 2477H1052.9 M1089.1 2477H1125.3 M1270.1 2477H1342.4 M1378.6 2477H1487.2 M1559.6 2477H1668.2 M1740.5 2477H1849.1 M1957.7 2477H2066.2 M799.6 2477V3113 M835.8 2477V3113 M872 2477V3113 M908.2 2477V3113 M1016.7 2477V3113 M1052.9 2477V3113 M1089.1 2477V3113 M1125.3 2477V3113 M1270.1 2477V3113 M1306.2 2477V3113 M1342.4 2477V3113 M1378.6 2477V3113 M1414.8 2477V3113 M1451 2477V3113 M1487.2 2477V3113 M1559.6 2477V3113 M1595.8 2477V3113 M1632 2477V3113 M1668.2 2477V3113 M1740.5 2477V3113 M1776.7 2477V3113 M1812.9 2477V3113 M1849.1 2477V3113 M1957.7 2477V3113 M1993.9 2477V3113 M2030.1 2477V3113 M2066.2 2477V3113"/>
</g>

<g id="radial-links">
<path class="rl" d="M2964.8 2478.9C2964.8 2208.5 2874.2 2208.5 2874.2 1938.1 M2964.8 2478.9C2964.8 2237.9 3224.7 2237.9 3224.7 1996.9 M2964.8 2478.9C2964.8 2293.5 3367.1 2293.5 3367.1 2108.1 M2964.8 2478.9C2964.8 2369 2462.7 2369 2462.7 2259.1 M2964.8 2478.9C2964.8 2456.75 2417.4 2456.75 2417.4 2434.6 M2964.8 2478.9C2964.8 2456.75 3510.4 2456.75 3510.4 2434.6 M2964.8 2478.9C2964.8 2629 3422.6 2629 3422.6 2779.1 M2964.8 2478.9C2964.8 2695.5 2628.2 2695.5 2628.2 2912.1 M2964.8 2478.9C2964.8 2738.45 2786.4 2738.45 2786.4 2998 M2964.8 2478.9V3027.8 M2964.8 2478.9C2964.8 2253.7 3039.7 2253.7 3039.7 2028.5 M2964.8 2478.9C2964.8 2278.15 2746.6 2278.15 2746.6 2077.4 M2964.8 2478.9C2964.8 2324.25 2628.2 2324.25 2628.2 2169.6 M2964.8 2478.9C2964.8 2387.55 3382.8 2387.55 3382.8 2296.2 M2964.8 2478.9C2964.8 2535.4 3407.8 2535.4 3407.8 2591.9 M2964.8 2478.9C2964.8 2659.3 3244.1 2659.3 3244.1 2839.7 M2964.8 2478.9C2964.8 2695.5 3111.9 2695.5 3111.9 2912.1 M2964.8 2478.9C2964.8 2603.7 2582 2603.7 2582 2728.5 M2964.8 2478.9C2964.8 2534.95 2521.9 2534.95 2521.9 2591"/>
<path class="rc" d="M3039.7 2028.5C3039.7 1934.45 2990.7 1934.45 2990.7 1840.4 M3039.7 2028.5C3039.7 1936.3 3044.4 1936.3 3044.4 1844.1 M3039.7 2028.5C3039.7 1940.8 3096.1 1940.8 3096.1 1853.1 M3039.7 2028.5C3039.7 1947.15 3146.1 1947.15 3146.1 1865.8 M2746.6 2077.4C2746.6 2010.45 2615.3 2010.45 2615.3 1943.5 M2746.6 2077.4C2746.6 1985.6 2706.8 1985.6 2706.8 1893.8 M2628.2 2169.6C2628.2 2089.1 2531.1 2089.1 2531.1 2008.6 M2628.2 2169.6C2628.2 2128 2459.9 2128 2459.9 2086.4 M3382.8 2296.2C3382.8 2223.85 3514.1 2223.85 3514.1 2151.5 M3382.8 2296.2C3382.8 2247.4 3539.1 2247.4 3539.1 2198.6 M3382.8 2296.2C3382.8 2271.8 3561.3 2271.8 3561.3 2247.4 M3382.8 2296.2H3578 M3407.8 2591.9C3407.8 2574.75 3599.2 2574.75 3599.2 2557.6 M3407.8 2591.9C3407.8 2600.95 3590 2600.95 3590 2610 M3407.8 2591.9C3407.8 2627.2 3578 2627.2 3578 2662.5 M3407.8 2591.9C3407.8 2652.05 3561.3 2652.05 3561.3 2712.2 M3244.1 2839.7C3244.1 2885.85 3416.1 2885.85 3416.1 2932 M3244.1 2839.7C3244.1 2903 3377.3 2903 3377.3 2966.3 M3244.1 2839.7C3244.1 2920.2 3335.6 2920.2 3335.6 3000.7 M3244.1 2839.7C3244.1 2934.65 3291.3 2934.65 3291.3 3029.6 M3111.9 2912.1C3111.9 2984.9 3236.7 2984.9 3236.7 3057.7 M3111.9 2912.1C3111.9 2998.45 3171 2998.45 3171 3084.8 M3111.9 2912.1C3111.9 3007.5 3104.5 3007.5 3104.5 3102.9 M2582 2728.5C2582 2756.1 2401.7 2756.1 2401.7 2783.7 M2582 2728.5C2582 2800.4 2459.9 2800.4 2459.9 2872.3 M2521.9 2591C2521.9 2587.4 2333.2 2587.4 2333.2 2583.8 M2521.9 2591C2521.9 2638.95 2359.1 2638.95 2359.1 2686.9"/>
</g>
<g id="radial-nodes" class="q">
<circle class="qbg" cx="2874.2" cy="1938.1" r="34"/><circle class="qbg" cx="3224.7" cy="1996.9" r="34"/><circle class="qbg" cx="3367.1" cy="2108.1" r="34"/><circle class="qbg" cx="2462.7" cy="2259.1" r="34"/><circle class="qbg" cx="2417.4" cy="2434.6" r="34"/><circle class="qbg" cx="3510.4" cy="2434.6" r="34"/><circle class="qbg" cx="3422.6" cy="2779.1" r="34"/><circle class="qbg" cx="2628.2" cy="2912.1" r="34"/><circle class="qbg" cx="2786.4" cy="2998" r="34"/><circle class="qbg" cx="2964.8" cy="3027.8" r="34"/>
<circle class="qvi" cx="3039.7" cy="2028.5" r="34"/><circle class="qvi" cx="2990.7" cy="1840.4" r="35"/><circle class="qvi" cx="3044.4" cy="1844.1" r="35"/><circle class="qvi" cx="3096.1" cy="1853.1" r="35"/><circle class="qvi" cx="3146.1" cy="1865.8" r="35"/>
<circle class="qnv" cx="2746.6" cy="2077.4" r="34"/><circle class="qnv" cx="2615.3" cy="1943.5" r="34"/><circle class="qnv" cx="2706.8" cy="1893.8" r="34"/>
<circle class="qol" cx="2628.2" cy="2169.6" r="34"/><circle class="qol" cx="2531.1" cy="2008.6" r="34"/><circle class="qol" cx="2459.9" cy="2086.4" r="34"/>
<circle class="qgp" cx="3382.8" cy="2296.2" r="34"/><circle class="qgp" cx="3514.1" cy="2151.5" r="35"/><circle class="qgp" cx="3539.1" cy="2198.6" r="35"/><circle class="qgp" cx="3561.3" cy="2247.4" r="35"/><circle class="qgp" cx="3578" cy="2296.2" r="35"/>
<circle class="qor" cx="3407.8" cy="2591.9" r="34"/><circle class="qor" cx="3561.3" cy="2712.2" r="35"/><circle class="qor" cx="3578" cy="2662.5" r="35"/><circle class="qor" cx="3590" cy="2610" r="35"/><circle class="qor" cx="3599.2" cy="2557.6" r="35"/>
<circle class="qgo" cx="3244.1" cy="2839.7" r="34"/><circle class="qgo" cx="3291.3" cy="3029.6" r="35"/><circle class="qgo" cx="3335.6" cy="3000.7" r="35"/><circle class="qgo" cx="3377.3" cy="2966.3" r="35"/><circle class="qgo" cx="3416.1" cy="2932" r="35"/>
<circle class="qrd" cx="3111.9" cy="2912.1" r="34"/><circle class="qrd" cx="3236.7" cy="3057.7" r="35"/><circle class="qrd" cx="3171" cy="3084.8" r="35"/><circle class="qrd" cx="3104.5" cy="3102.9" r="35"/>
<circle class="qro" cx="2582" cy="2728.5" r="34"/><circle class="qro" cx="2401.7" cy="2783.7" r="34"/><circle class="qro" cx="2459.9" cy="2872.3" r="34"/>
<circle class="qgn" cx="2521.9" cy="2591" r="34"/><circle class="qgn" cx="2333.2" cy="2583.8" r="34"/><circle class="qgn" cx="2359.1" cy="2686.9" r="34"/>
<circle class="qbg" cx="2964.8" cy="2478.9" r="36" stroke="#5e5e5e" stroke-width="4"/>
</g>

<g id="sunburst">
<circle cx="4525.5" cy="2471.7" r="630.5" fill="none" stroke="#262626" stroke-width="113"/>
<g class="sb">
<path class="sd" d="M4525.5 1897.7A574 574 0 0 0 4428.5 1906L4448.1 2020.3A458 458 0 0 1 4525.5 2013.7Z"/>
<path class="sor" d="M4428.5 1906A574 574 0 0 0 4245.6 1970.6L4302.1 2071.9A458 458 0 0 1 4448.1 2020.3Z"/>
<path class="sg" d="M4245.6 1970.6A574 574 0 0 0 4094.5 2092.6L4181.6 2169.2A458 458 0 0 1 4302.1 2071.9Z"/>
<path class="sd" d="M4094.5 2092.6A574 574 0 0 0 4036.5 2171L4135.4 2231.8A458 458 0 0 1 4181.6 2169.2Z"/>
<path class="sd" d="M4036.5 2171A574 574 0 0 0 3992.9 2257.7L4100.5 2300.9A458 458 0 0 1 4135.4 2231.8Z"/>
<path class="sr" d="M3992.9 2257.7A574 574 0 0 0 3952 2447.3L4067.9 2452.3A458 458 0 0 1 4100.5 2300.9Z"/>
<path class="sp" d="M3952 2447.3A574 574 0 0 0 3976.7 2639.8L4087.6 2605.8A458 458 0 0 1 4067.9 2452.3Z"/>
<path class="sd" d="M3976.7 2639.8A574 574 0 0 0 4012.9 2730.1L4116.5 2677.9A458 458 0 0 1 4087.6 2605.8Z"/>
<path class="sd" d="M4012.9 2730.1A574 574 0 0 0 4063.9 2812.9L4157.2 2744A458 458 0 0 1 4116.5 2677.9Z"/>
<path class="sd" d="M4063.9 2812.9A574 574 0 0 0 4128.1 2885.9L4208.4 2802.2A458 458 0 0 1 4157.2 2744Z"/>
<path class="sbr" d="M4128.1 2885.9A574 574 0 0 0 4380.9 3027.2L4410.1 2914.9A458 458 0 0 1 4208.4 2802.2Z"/>
<path class="sm" d="M4380.9 3027.2A574 574 0 0 0 4761.9 2994.7L4714.2 2889A458 458 0 0 1 4410.1 2914.9Z"/>
<path class="sd" d="M4761.9 2994.7A574 574 0 0 0 4847.3 2947L4782.3 2851A458 458 0 0 1 4714.2 2889Z"/>
<path class="sd" d="M4847.3 2947A574 574 0 0 0 5074.3 2639.8L4963.4 2605.8A458 458 0 0 1 4782.3 2851Z"/>
<path class="sd" d="M5074.3 2639.8A574 574 0 0 0 5094.9 2544.6L4979.8 2529.9A458 458 0 0 1 4963.4 2605.8Z"/>
<path class="so" d="M5094.9 2544.6A574 574 0 0 0 5014.5 2171L4915.6 2231.8A458 458 0 0 1 4979.8 2529.9Z"/>
<path class="sd" d="M5014.5 2171A574 574 0 0 0 4956.5 2092.6L4869.4 2169.2A458 458 0 0 1 4915.6 2231.8Z"/>
<path class="sd" d="M4956.5 2092.6A574 574 0 0 0 4886.1 2025.1L4813.3 2115.4A458 458 0 0 1 4869.4 2169.2Z"/>
<path class="st" d="M4886.1 2025.1A574 574 0 0 0 4525.5 1897.7L4525.5 2013.7A458 458 0 0 1 4813.3 2115.4Z"/>
<path class="sor" d="M4448.1 2020.3A458 458 0 0 0 4372.9 2039.9L4410.6 2146.4A345 345 0 0 1 4467.2 2131.7Z"/>
<path class="sor" d="M4372.9 2039.9A458 458 0 0 0 4302.1 2071.9L4357.2 2170.5A345 345 0 0 1 4410.6 2146.4Z"/>
<path class="sg" d="M4302.1 2071.9A458 458 0 0 0 4237.7 2115.4L4308.7 2203.3A345 345 0 0 1 4357.2 2170.5Z"/>
<path class="sg" d="M4237.7 2115.4A458 458 0 0 0 4181.6 2169.2L4266.5 2243.8A345 345 0 0 1 4308.7 2203.3Z"/>
<path class="sr" d="M4100.5 2300.9A458 458 0 0 0 4077.8 2375.2L4188.2 2399A345 345 0 0 1 4205.4 2343.1Z"/>
<path class="sr" d="M4077.8 2375.2A458 458 0 0 0 4067.9 2452.3L4180.8 2457.1A345 345 0 0 1 4188.2 2399Z"/>
<path class="sp" d="M4067.9 2452.3A458 458 0 0 0 4071.2 2529.9L4183.3 2515.5A345 345 0 0 1 4180.8 2457.1Z"/>
<path class="sp" d="M4071.2 2529.9A458 458 0 0 0 4087.6 2605.8L4195.6 2572.7A345 345 0 0 1 4183.3 2515.5Z"/>
<path class="sbr" d="M4208.4 2802.2A458 458 0 0 0 4268.7 2851L4332.1 2757.4A345 345 0 0 1 4286.7 2720.7Z"/>
<path class="sbr" d="M4268.7 2851A458 458 0 0 0 4336.8 2889L4383.4 2786.1A345 345 0 0 1 4332.1 2757.4Z"/>
<path class="sbr" d="M4336.8 2889A458 458 0 0 0 4410.1 2914.9L4438.6 2805.6A345 345 0 0 1 4383.4 2786.1Z"/>
<path class="sm" d="M4410.1 2914.9A458 458 0 0 0 4486.7 2928.1L4496.2 2815.5A345 345 0 0 1 4438.6 2805.6Z"/>
<path class="sm" d="M4486.7 2928.1A458 458 0 0 0 4564.3 2928.1L4554.8 2815.5A345 345 0 0 1 4496.2 2815.5Z"/>
<path class="sm" d="M4564.3 2928.1A458 458 0 0 0 4640.9 2914.9L4612.4 2805.6A345 345 0 0 1 4554.8 2815.5Z"/>
<path class="sm" d="M4640.9 2914.9A458 458 0 0 0 4714.2 2889L4667.6 2786.1A345 345 0 0 1 4612.4 2805.6Z"/>
<path class="sd" d="M4782.3 2851A458 458 0 0 0 4842.6 2802.2L4764.3 2720.7A345 345 0 0 1 4718.9 2757.4Z"/>
<path class="sd" d="M4842.6 2802.2A458 458 0 0 0 4893.8 2744L4802.9 2676.8A345 345 0 0 1 4764.3 2720.7Z"/>
<path class="sd" d="M4893.8 2744A458 458 0 0 0 4934.5 2677.9L4833.6 2627A345 345 0 0 1 4802.9 2676.8Z"/>
<path class="sd" d="M4934.5 2677.9A458 458 0 0 0 4963.4 2605.8L4855.4 2572.7A345 345 0 0 1 4833.6 2627Z"/>
<path class="so" d="M4979.8 2529.9A458 458 0 0 0 4983.1 2452.3L4870.2 2457.1A345 345 0 0 1 4867.7 2515.5Z"/>
<path class="so" d="M4983.1 2452.3A458 458 0 0 0 4973.2 2375.2L4862.8 2399A345 345 0 0 1 4870.2 2457.1Z"/>
<path class="so" d="M4973.2 2375.2A458 458 0 0 0 4950.5 2300.9L4845.6 2343.1A345 345 0 0 1 4862.8 2399Z"/>
<path class="so" d="M4950.5 2300.9A458 458 0 0 0 4915.6 2231.8L4819.4 2291A345 345 0 0 1 4845.6 2343.1Z"/>
<path class="st" d="M4813.3 2115.4A458 458 0 0 0 4748.9 2071.9L4693.8 2170.5A345 345 0 0 1 4742.3 2203.3Z"/>
<path class="st" d="M4748.9 2071.9A458 458 0 0 0 4678.1 2039.9L4640.6 2146.4A345 345 0 0 1 4693.8 2170.5Z"/>
<path class="st" d="M4678.1 2039.9A458 458 0 0 0 4602.9 2020.3L4583.8 2131.7A345 345 0 0 1 4640.6 2146.4Z"/>
<path class="st" d="M4602.9 2020.3A458 458 0 0 0 4525.5 2013.7L4525.5 2126.7A345 345 0 0 1 4583.8 2131.7Z"/>
</g>
</g>

<g id="force-links">
<path class="fl" d="M5794.9 2552.1L6388.6 2315.2 M5794.9 2552.1L6042 2412.9 M5794.9 2552.1L6054.5 2487 M5794.9 2552.1L6414.3 2482.5 M5794.9 2552.1L6047.8 2557.6 M5794.9 2552.1L5352.2 2572 M5794.9 2552.1L5833.9 3083.9 M5794.9 2552.1L5720.3 2658.9 M5794.9 2552.1L5746 2692.3 M5794.9 2552.1L5785 2533.1 M5794.9 2552.1L6316.5 2157 M5794.9 2552.1L5693.8 2203.1 M5794.9 2552.1L6007.2 2340.5 M5794.9 2552.1L5358.9 2692.3 M5794.9 2552.1L5978.2 3068.5 M5794.9 2552.1L5828.9 2726.7 M5794.9 2552.1L5983.2 2671.5 M5794.9 2552.1L5702.1 2595.6 M5794.9 2552.1L5743.6 2533.1 M6316.5 2157L5689.7 1841.3 M6316.5 2157L5878.7 1854.9 M6316.5 2157L6054.5 1916.4 M6316.5 2157L6203.7 2020.4 M5693.8 2203.1L5596 2228.4 M5693.8 2203.1L5506.4 2281.8 M5693.8 2203.1L5431.8 2360.4 M5693.8 2203.1L5378.8 2459 M6007.2 2340.5L5789.2 2204.9 M6007.2 2340.5L5877 2231.1 M6007.2 2340.5L5951.7 2278.1 M5358.9 2692.3L5398.7 2810.8 M5358.9 2692.3L5470.8 2917.5 M5358.9 2692.3L5571.1 3003.4 M5358.9 2692.3L5695.5 3061.3 M5978.2 3068.5L6117.5 3014.3 M5978.2 3068.5L6239.4 2922 M5978.2 3068.5L6334.7 2797.2 M5978.2 3068.5L6395.2 2648"/>
</g>
<g id="force-nodes" stroke="#545454" stroke-width="1.5">
<circle class="qvi" cx="5689.7" cy="1841.3" r="31"/><circle class="qvi" cx="5878.7" cy="1854.9" r="31"/><circle class="qvi" cx="6054.5" cy="1916.4" r="31"/><circle class="qvi" cx="6203.7" cy="2020.4" r="31"/><circle class="qvi" cx="6316.5" cy="2157" r="31"/>
<circle class="qgo" cx="5693.8" cy="2203.1" r="31"/><circle class="qgo" cx="5596" cy="2228.4" r="31"/><circle class="qgo" cx="5506.4" cy="2281.8" r="31"/><circle class="qgo" cx="5431.8" cy="2360.4" r="31"/><circle class="qgo" cx="5378.8" cy="2459" r="31"/>
<circle class="qrd" cx="5789.2" cy="2204.9" r="31"/><circle class="qrd" cx="5877" cy="2231.1" r="31"/><circle class="qrd" cx="5951.7" cy="2278.1" r="31"/><circle class="qrd" cx="6007.2" cy="2340.5" r="31"/>
<circle class="qbg" cx="6388.6" cy="2315.2" r="31"/><circle class="qbg" cx="6042" cy="2412.9" r="31"/><circle class="qbg" cx="6054.5" cy="2487" r="31"/><circle class="qbg" cx="6414.3" cy="2482.5" r="31"/><circle class="qbg" cx="6047.8" cy="2557.6" r="31"/><circle class="qbg" cx="5352.2" cy="2572" r="31"/><circle class="qbg" cx="5833.9" cy="3083.9" r="31"/>
<circle class="qor" cx="5358.9" cy="2692.3" r="31"/><circle class="qor" cx="5398.7" cy="2810.8" r="31"/><circle class="qor" cx="5470.8" cy="2917.5" r="31"/><circle class="qor" cx="5571.1" cy="3003.4" r="31"/><circle class="qor" cx="5695.5" cy="3061.3" r="31"/>
<circle class="qgp" cx="5978.2" cy="3068.5" r="31"/><circle class="qgp" cx="6117.5" cy="3014.3" r="31"/><circle class="qgp" cx="6239.4" cy="2922" r="31"/><circle class="qgp" cx="6334.7" cy="2797.2" r="31"/><circle class="qgp" cx="6395.2" cy="2648" r="31"/>
<circle class="qro" cx="6022.1" cy="2620.9" r="31"/><circle class="qro" cx="5983.2" cy="2671.5" r="31"/><circle class="qro" cx="5935.1" cy="2705.9" r="31"/>
<circle class="qbg" cx="5746" cy="2692.3" r="31"/><circle class="qbg" cx="5720.3" cy="2658.9" r="31"/>
<circle class="qgn" cx="5783.3" cy="2714" r="31"/><circle class="qgn" cx="5828.9" cy="2726.7" r="31"/><circle class="qgn" cx="5881.2" cy="2724" r="31"/>
<circle class="qbg" cx="5794.9" cy="2552.1" r="31"/><circle class="qbg" cx="5785" cy="2533.1" r="31"/>
<circle class="qol" cx="5706.2" cy="2563.9" r="31"/><circle class="qol" cx="5702.1" cy="2595.6" r="31"/><circle class="qol" cx="5705.4" cy="2627.2" r="31"/>
<circle class="qnv" cx="5764.3" cy="2529.5" r="31"/><circle class="qnv" cx="5743.6" cy="2533.1" r="31"/><circle class="qnv" cx="5723.7" cy="2545.8" r="31"/>
</g>

<g id="radial-partition">
<circle cx="7270" cy="2468.3" r="628" fill="#052139"/>
<g class="rw">
<path d="M7270 2468.3L7289.7 1874.6A594 594 0 0 1 7615.8 1985.3Z"/>
<path d="M7270 2468.3L7647.4 2009.6A594 594 0 0 1 7724.4 2085.7Z"/>
<path d="M7270 2468.3L7750.6 2119.2A594 594 0 0 1 7808.8 2218.2Z"/>
<path d="M7270 2468.3L7823.8 2253.5A594 594 0 0 1 7856.2 2564.3Z"/>
<path d="M7270 2468.3L7848.5 2602.9A594 594 0 0 1 7820.4 2691.8Z"/>
<path d="M7270 2468.3L7804.3 2727.8A594 594 0 0 1 7689.3 2889.1Z"/>
<path d="M7270 2468.3L7658.9 2917.3A594 594 0 0 1 7613.2 2953.1Z"/>
<path d="M7270 2468.3L7579.5 2975.3A594 594 0 0 1 7301.1 3061.5Z"/>
<path d="M7270 2468.3L7260.7 3062.2A594 594 0 0 1 7107.3 3039.6Z"/>
<path d="M7270 2468.3L7069.8 3027.5A594 594 0 0 1 7024.6 3009.2Z"/>
<path d="M7270 2468.3L6988.4 2991.3A594 594 0 0 1 6913.4 2943.3Z"/>
<path d="M7270 2468.3L6881.1 2917.3A594 594 0 0 1 6840.6 2878.7Z"/>
<path d="M7270 2468.3L6813 2847.7A594 594 0 0 1 6722.4 2698.5Z"/>
<path d="M7270 2468.3L6708.4 2661.7A594 594 0 0 1 6676.2 2481.8Z"/>
<path d="M7270 2468.3L6676.6 2441.4A594 594 0 0 1 6679.5 2404.1Z"/>
<path d="M7270 2468.3L6685.4 2363.1A594 594 0 0 1 6757.7 2167.7Z"/>
<path d="M7270 2468.3L6778.8 2134.3A594 594 0 0 1 6866.4 2032.5Z"/>
<path d="M7270 2468.3L6897 2006A594 594 0 0 1 7041.7 1919.9Z"/>
<path d="M7270 2468.3L7079.6 1905.7A594 594 0 0 1 7214.1 1876.9Z"/>
</g>
<g class="rb">
<g transform="translate(7270 2468.3) rotate(18.75)">
<path d="M-118.7 -552.4A565 565 0 0 1 118.7 -552.4L95.5 -444.1A454.25 454.25 0 0 0 -95.5 -444.1Z"/>
<path d="M-90.6 -421.6A431.25 431.25 0 0 1 90.6 -421.6L67.4 -313.3A320.5 320.5 0 0 0 -67.4 -313.3Z"/>
<path d="M-62.5 -290.9A297.5 297.5 0 0 1 62.5 -290.9L39.2 -182.6A186.75 186.75 0 0 0 -39.2 -182.6Z"/>
<path d="M-34.4 -160.1A163.75 163.75 0 0 1 34.4 -160.1L11.1 -51.8A53 53 0 0 0 -11.1 -51.8Z"/>
</g>
<g transform="translate(7270 2468.3) rotate(84.05)">
<path d="M-107.6 -554.7A565 565 0 0 1 107.6 -554.7L86.5 -445.9A454.25 454.25 0 0 0 -86.5 -445.9Z"/>
<path d="M-82.1 -423.4A431.25 431.25 0 0 1 82.1 -423.4L61 -314.6A320.5 320.5 0 0 0 -61 -314.6Z"/>
<path d="M-56.7 -292.1A297.5 297.5 0 0 1 56.7 -292.1L35.6 -183.3A186.75 186.75 0 0 0 -35.6 -183.3Z"/>
<path d="M-31.2 -160.8A163.75 163.75 0 0 1 31.2 -160.8L10.1 -52A53 53 0 0 0 -10.1 -52Z"/>
</g>
<g transform="translate(7270 2468.3) rotate(125.5)">
<path d="M-68 -560.9A565 565 0 0 1 68 -560.9L54.7 -450.9A454.25 454.25 0 0 0 -54.7 -450.9Z"/>
<path d="M-51.9 -428.1A431.25 431.25 0 0 1 51.9 -428.1L38.6 -318.2A320.5 320.5 0 0 0 -38.6 -318.2Z"/>
<path d="M-35.8 -295.3A297.5 297.5 0 0 1 35.8 -295.3L22.5 -185.4A186.75 186.75 0 0 0 -22.5 -185.4Z"/>
<path d="M-19.7 -162.6A163.75 163.75 0 0 1 19.7 -162.6L6.4 -52.6A53 53 0 0 0 -6.4 -52.6Z"/>
</g>
<g transform="translate(7270 2468.3) rotate(162.8)">
<path d="M-100.2 -556A565 565 0 0 1 100.2 -556L80.6 -447A454.25 454.25 0 0 0 -80.6 -447Z"/>
<path d="M-76.5 -424.4A431.25 431.25 0 0 1 76.5 -424.4L56.9 -315.4A320.5 320.5 0 0 0 -56.9 -315.4Z"/>
<path d="M-52.8 -292.8A297.5 297.5 0 0 1 52.8 -292.8L33.1 -183.8A186.75 186.75 0 0 0 -33.1 -183.8Z"/>
<path d="M-29.1 -161.2A163.75 163.75 0 0 1 29.1 -161.2L9.4 -52.2A53 53 0 0 0 -9.4 -52.2Z"/>
</g>
<g transform="translate(7270 2468.3) rotate(188.4)">
<path d="M-53.2 -562.5A565 565 0 0 1 53.2 -562.5L38.6 -407.9A409.7 409.7 0 0 0 -38.6 -407.9Z"/>
<path d="M-36.4 -385A386.7 386.7 0 0 1 36.4 -385L21.8 -230.3A231.3 231.3 0 0 0 -21.8 -230.3Z"/>
<path d="M-19.6 -207.4A208.3 208.3 0 0 1 19.6 -207.4L5 -52.8A53 53 0 0 0 -5 -52.8Z"/>
</g>
<g transform="translate(7270 2468.3) rotate(238.75)">
<path d="M-59.8 -561.8A565 565 0 0 1 59.8 -561.8L33.9 -318.7A320.5 320.5 0 0 0 -33.9 -318.7Z"/>
<path d="M-31.5 -295.8A297.5 297.5 0 0 1 31.5 -295.8L5.6 -52.7A53 53 0 0 0 -5.6 -52.7Z"/>
</g>
<g transform="translate(7270 2468.3) rotate(259.85)">
<path d="M-62.7 -561.5A565 565 0 0 1 62.7 -561.5L35.6 -318.5A320.5 320.5 0 0 0 -35.6 -318.5Z"/>
<path d="M-33 -295.7A297.5 297.5 0 0 1 33 -295.7L5.9 -52.7A53 53 0 0 0 -5.9 -52.7Z"/>
</g>
<g transform="translate(7270 2468.3) rotate(310.7)">
<path d="M-46.1 -563.1A565 565 0 0 1 46.1 -563.1L26.1 -319.4A320.5 320.5 0 0 0 -26.1 -319.4Z"/>
<path d="M-24.3 -296.5A297.5 297.5 0 0 1 24.3 -296.5L4.3 -52.8A53 53 0 0 0 -4.3 -52.8Z"/>
</g>
<g transform="translate(7270 2468.3) rotate(329.25)">
<path d="M-57.8 -562A565 565 0 0 1 57.8 -562L32.8 -318.8A320.5 320.5 0 0 0 -32.8 -318.8Z"/>
<path d="M-30.4 -295.9A297.5 297.5 0 0 1 30.4 -295.9L5.4 -52.7A53 53 0 0 0 -5.4 -52.7Z"/>
</g>
</g>
<circle cx="7270" cy="2468.3" r="23" fill="#051e33" stroke="#243240" stroke-width="3"/>
</g>
</g>
</svg>
